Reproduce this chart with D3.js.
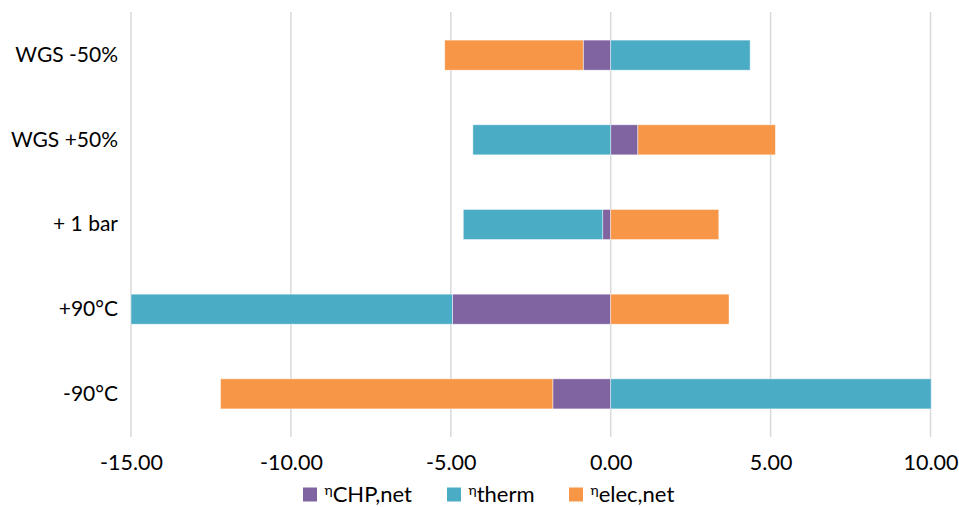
<!DOCTYPE html>
<html><head><meta charset="utf-8">
<script src="https://cdn.jsdelivr.net/npm/d3@7"></script>
<style>body{margin:0;background:#fff}svg{display:block}text{font-family:Lato,"Open Sans",sans-serif;fill:#000}</style>
</head><body><div id="chart"></div>
<script>
const categories = ["WGS -50%", "WGS +50%", "+ 1 bar", "+90°C", "-90°C"];
const chpNet  = [-0.86, 0.85, -0.25, -4.95, -1.81];
const therm   = [4.36, -4.31, -4.36, -10.05, 10.02];
const elecNet = [-4.33, 4.30, 3.38, 3.70, -10.39];
const tickValues = [-15, -10, -5, 0, 5, 10];
const seriesNames = ["CHP,net", "therm", "elec,net"];
const colors = ["#8064A2", "#4BACC6", "#F79646"];

const W = 959, H = 507;
const svg = d3.select("#chart").append("svg").attr("width", W).attr("height", H);
const x = d3.scaleLinear().domain([-15, 10]).range([131, 930.5]);
const y = d3.scaleBand().domain(categories).range([13, 436]).paddingInner(0.645).paddingOuter(0.32);

const rows = categories.map((c, i) => ({cat: c, s0: chpNet[i], s1: therm[i], s2: elecNet[i]}));
const stack = d3.stack().keys(["s0", "s1", "s2"]).offset(d3.stackOffsetDiverging).order(d3.stackOrderNone);
const series = stack(rows);

// gridlines
svg.append("g").selectAll("line").data(tickValues).join("line")
  .attr("x1", d => x(d)).attr("x2", d => x(d))
  .attr("y1", 12).attr("y2", 437)
  .attr("stroke", "#d9d9d9").attr("stroke-width", 1.5);

// bars
svg.append("g").selectAll("g").data(series).join("g")
  .attr("fill", (d, i) => colors[i])
  .selectAll("rect").data(d => d).join("rect")
  .attr("x", d => x(Math.min(d[0], d[1])))
  .attr("width", d => Math.abs(x(d[1]) - x(d[0])))
  .attr("y", d => y(d.data.cat))
  .attr("height", y.bandwidth())
  .attr("stroke", "rgba(255,255,255,0.6)").attr("stroke-width", 0.75);

// x axis
const fmt = d3.format(".2f");
const xAxis = d3.axisBottom(x).tickValues(tickValues).tickFormat(d => fmt(d).replace("−", "-")).tickSize(0);
const gx = svg.append("g").attr("transform", "translate(0,452)").call(xAxis);
gx.select(".domain").remove();
gx.selectAll("text").attr("font-size", 21.5).attr("font-family", "Lato, sans-serif").attr("dy", "0.71em").attr("fill", "#000");

// y axis
const yAxis = d3.axisLeft(y).tickSize(0);
const gy = svg.append("g").attr("transform", "translate(118,0)").call(yAxis);
gy.select(".domain").remove();
gy.selectAll("text").attr("font-size", 21).attr("font-family", "Lato, sans-serif").attr("x", 0).attr("fill", "#000");

// legend
const legendX = [303, 447, 569];
const lg = svg.append("g").selectAll("g").data(seriesNames).join("g")
  .attr("transform", (d, i) => `translate(${legendX[i]},487.5)`);
lg.append("rect").attr("width", 14).attr("height", 14).attr("fill", (d, i) => colors[i]);
const lt = lg.append("text").attr("x", 21.5).attr("y", 14).attr("font-size", 22);
lt.append("tspan").attr("font-size", 14).attr("dy", -6.3).text("η");
lt.append("tspan").attr("dy", 6.3).text(d => d);
</script></body></html>
